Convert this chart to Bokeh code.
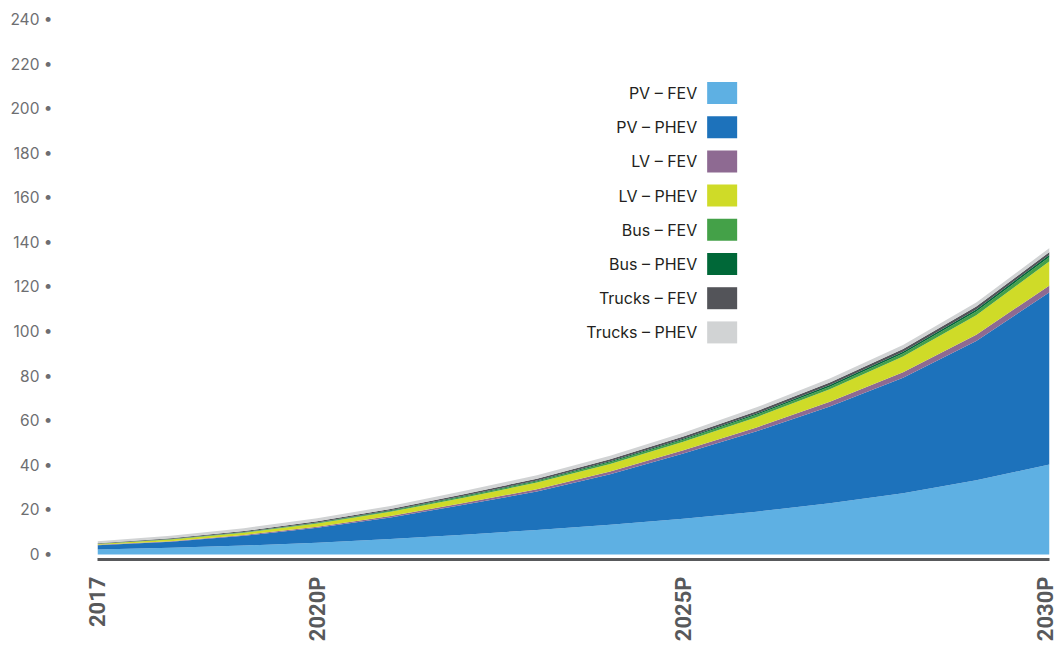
import math
from bokeh.plotting import figure
from bokeh.models import ColumnDataSource, Range1d, FixedTicker, PrintfTickFormatter
from bokeh.core.properties import value
from bokeh.embed import file_html
from bokeh.resources import INLINE

# ---- data ----
years = [2017, 2018, 2019, 2020, 2021, 2022, 2023, 2024, 2025, 2026, 2027, 2028, 2029, 2030]
pv_fev = [2.2, 3.0, 4.0, 5.3, 7.0, 8.9, 11.0, 13.4, 16.0, 19.2, 23.0, 27.5, 33.3, 40.4]
pv_phev = [2.0, 2.75, 4.4, 6.7, 9.6, 13.4, 17.25, 22.65, 29.35, 36.1, 43.4, 51.8, 62.5, 77.2]
lv_fev = [0.15, 0.25, 0.35, 0.5, 0.65, 0.8, 1.0, 1.2, 1.4, 1.7, 2.1, 2.5, 2.8, 3.1]
lv_phev = [0.4, 0.7, 1.0, 1.4, 1.9, 2.4, 3.0, 3.4, 3.8, 4.6, 5.6, 7.0, 8.7, 10.8]
bus_fev = [0.05, 0.15, 0.2, 0.3, 0.4, 0.5, 0.6, 0.75, 0.9, 1.05, 1.2, 1.4, 1.7, 2.0]
bus_phev = [0.05, 0.1, 0.15, 0.2, 0.25, 0.3, 0.35, 0.4, 0.45, 0.55, 0.7, 0.8, 0.9, 0.9]
trucks_fev = [0.25, 0.35, 0.4, 0.5, 0.6, 0.7, 0.8, 0.9, 1.0, 1.1, 1.2, 1.2, 1.3, 1.3]
trucks_phev = [0.9, 1.1, 1.3, 1.4, 1.4, 1.5, 1.5, 1.6, 1.7, 1.7, 1.8, 1.8, 1.8, 1.8]

series_names = ["PV – FEV", "PV – PHEV", "LV – FEV", "LV – PHEV",
                "Bus – FEV", "Bus – PHEV", "Trucks – FEV", "Trucks – PHEV"]
series_values = [pv_fev, pv_phev, lv_fev, lv_phev, bus_fev, bus_phev, trucks_fev, trucks_phev]
series_colors = ["#5eb0e3", "#1d72bb", "#8e6a92", "#cfdb28",
                 "#44a148", "#006838", "#535459", "#d1d3d4"]

tick_years = [2017, 2020, 2025, 2030]
tick_labels = ["2017", "2020P", "2025P", "2030P"]
y_ticks = [0, 20, 40, 60, 80, 100, 120, 140, 160, 180, 200, 220, 240]

# ---- figure ----
data = {"year": years}
for n, v in zip(series_names, series_values):
    data[n] = v
src = ColumnDataSource(data)

p = figure(width=1057, height=647, output_backend="svg", toolbar_location=None,
           x_range=Range1d(2017, 2030), y_range=Range1d(-2.24, 248.5),
           min_border_left=97, min_border_right=8, min_border_top=0, min_border_bottom=88)
p.outline_line_color = None
p.xgrid.grid_line_color = None
p.ygrid.grid_line_color = None
p.background_fill_color = "white"
p.border_fill_color = "white"

p.varea_stack(stackers=series_names, x="year", color=series_colors, source=src)

# y axis
p.yaxis.ticker = FixedTicker(ticks=y_ticks)
p.yaxis.formatter = PrintfTickFormatter(format="%d •")
p.yaxis.axis_line_color = None
p.yaxis.major_tick_line_color = None
p.yaxis.minor_tick_line_color = None
p.yaxis.major_label_text_font = "Inter"
p.yaxis.major_label_text_font_size = "15.5px"
p.yaxis.major_label_text_color = "#6d6e71"
p.yaxis.major_label_standoff = 39

# x axis
p.xaxis.ticker = FixedTicker(ticks=tick_years)
p.xaxis.major_label_overrides = {y: l for y, l in zip(tick_years, tick_labels)}
p.xaxis.major_label_orientation = math.pi / 2
p.xaxis.major_label_text_font = "Roboto"
p.xaxis.major_label_text_font_style = "bold"
p.xaxis.major_label_text_font_size = "22px"
p.xaxis.major_label_text_color = "#58595b"
p.xaxis.major_label_standoff = 11
p.xaxis.major_tick_line_color = None
p.xaxis.minor_tick_line_color = None
p.xaxis.axis_line_color = "#58595b"
p.xaxis.axis_line_width = 3

# legend (label left, swatch right)
legend_top = 207.0
legend_step = 15.34
legend_y = [legend_top - i * legend_step for i in range(len(series_names))]
swatch_x = 2025.53
text_x = 2025.19
p.rect(x=[swatch_x] * len(series_names), y=legend_y, width=30, height=22,
       width_units="screen", height_units="screen",
       fill_color=series_colors, line_color=None)
p.text(x=[text_x] * len(series_names), y=legend_y, text=series_names,
       text_align="right", text_baseline="middle",
       text_font=value("Inter"), text_font_size="16px", text_color="#231f20")

open("out.html", "w").write(file_html(p, INLINE))
